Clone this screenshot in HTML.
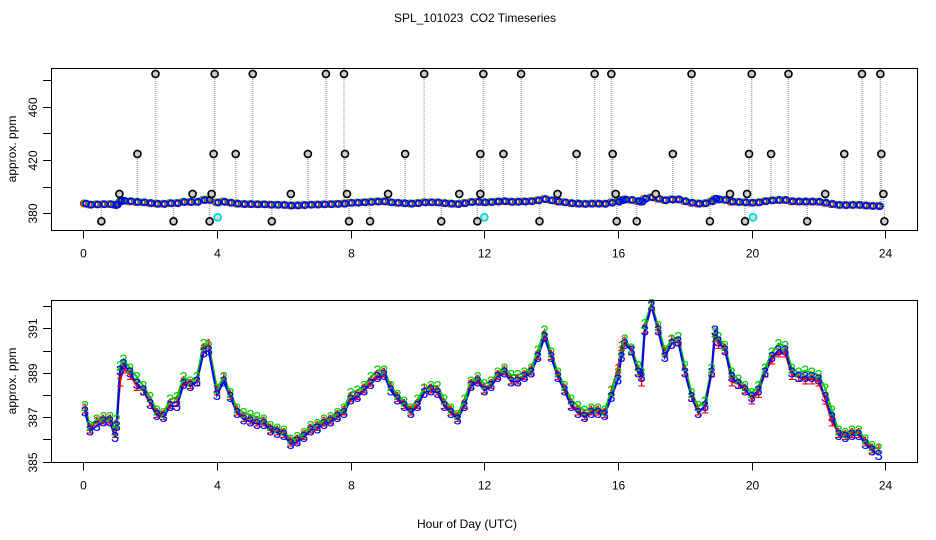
<!DOCTYPE html>
<html><head><meta charset="utf-8"><style>
html,body{margin:0;padding:0;background:#fff}
svg{display:block;font-family:"Liberation Sans",sans-serif}
</style></head><body>
<svg id="chart" width="936" height="540" viewBox="0 0 936 540" xmlns="http://www.w3.org/2000/svg">
<text x="475" y="22" font-size="12" text-anchor="middle">SPL_101023&#160; CO2 Timeseries</text>
<text x="467" y="528" font-size="12" text-anchor="middle">Hour of Day (UTC)</text>
<text transform="translate(16,149) rotate(-90)" font-size="12" text-anchor="middle">approx. ppm</text>
<text transform="translate(16,381) rotate(-90)" font-size="12" text-anchor="middle">approx. ppm</text>
<g id="topPanel"></g>
<g id="botPanel"></g>
<rect x="51.5" y="68.5" width="866" height="162" fill="none" stroke="#000"/>
<rect x="51.5" y="300.5" width="866" height="162" fill="none" stroke="#000"/>
</svg>
<script>
const hours=[0.05,0.2,0.4,0.6,0.8,0.95,1.0,1.1,1.2,1.4,1.6,1.8,2.0,2.2,2.4,2.6,2.8,3.0,3.2,3.4,3.6,3.75,4.0,4.2,4.4,4.6,4.8,5.0,5.2,5.4,5.6,5.8,6.0,6.2,6.4,6.6,6.8,7.0,7.2,7.4,7.6,7.8,8.0,8.2,8.4,8.6,8.8,9.0,9.2,9.4,9.6,9.8,10.0,10.2,10.4,10.6,10.8,11.0,11.2,11.4,11.6,11.8,12.0,12.2,12.4,12.6,12.8,13.0,13.2,13.4,13.6,13.8,14.0,14.2,14.4,14.6,14.8,15.0,15.2,15.4,15.6,15.8,16.0,16.1,16.2,16.4,16.6,16.7,16.8,17.0,17.2,17.4,17.6,17.8,18.0,18.2,18.4,18.6,18.8,18.9,19.0,19.2,19.4,19.6,19.8,20.0,20.2,20.4,20.6,20.8,21.0,21.2,21.4,21.6,21.8,22.0,22.2,22.4,22.6,22.8,23.0,23.2,23.4,23.6,23.8];
const series3=[387.25,386.4,386.6,386.8,386.8,386.1,386.6,389.1,389.4,389.0,388.5,388.2,387.6,387.1,387.0,387.5,387.5,388.5,388.4,388.6,389.9,390.0,388.0,388.6,387.9,387.2,386.9,386.8,386.7,386.7,386.4,386.3,386.2,385.8,385.9,386.1,386.4,386.5,386.7,386.8,387.0,387.2,387.8,387.9,388.2,388.5,388.8,388.9,388.2,387.8,387.5,387.2,387.5,388.1,388.2,388.1,387.5,387.2,386.9,387.5,388.4,388.6,388.2,388.4,388.8,389.0,388.6,388.6,388.8,389.0,389.7,390.6,389.7,388.8,388.2,387.5,387.2,387.0,387.2,387.2,387.1,387.9,388.7,389.7,390.3,390.0,389.0,388.8,390.9,392.0,390.9,389.7,390.3,390.4,389.0,387.9,387.2,387.5,389.0,390.9,390.4,390.0,388.8,388.5,388.2,387.9,388.2,389.0,389.7,390.0,390.0,389.0,388.8,388.8,388.8,388.7,387.9,387.0,386.2,386.1,386.2,386.2,385.8,385.5,385.3];
const series2=[387.5,386.6,386.9,387.0,387.0,386.4,386.9,389.3,389.6,389.2,388.8,388.4,387.9,387.3,387.2,387.8,387.9,388.8,388.6,388.8,390.3,390.2,388.3,388.8,388.1,387.4,387.2,387.1,387.0,386.9,386.6,386.5,386.4,386.0,386.1,386.3,386.6,386.7,386.9,387.0,387.2,387.4,388.1,388.2,388.4,388.8,389.1,389.1,388.4,388.0,387.7,387.4,387.8,388.3,388.4,388.4,387.8,387.4,387.1,387.8,388.6,388.8,388.5,388.6,389.0,389.2,388.9,388.9,389.0,389.2,390.0,390.9,389.9,389.0,388.4,387.8,387.5,387.3,387.4,387.4,387.3,388.2,389.0,390.0,390.5,390.1,389.3,389.0,391.2,392.1,391.1,390.0,390.5,390.6,389.3,388.1,387.5,387.7,389.2,390.8,390.6,390.2,389.0,388.7,388.4,388.1,388.4,389.2,389.9,390.3,390.2,389.2,389.0,389.1,389.0,388.9,388.3,387.3,386.4,386.3,386.4,386.4,386.0,385.7,385.6];
const series1=[387.4,386.5,386.8,386.9,386.9,386.3,386.7,388.6,389.2,388.9,388.4,388.2,387.7,387.2,387.1,387.6,387.7,388.6,388.5,388.6,390.1,390.3,388.2,388.8,388.0,387.3,387.0,386.9,386.8,386.8,386.5,386.4,386.3,385.9,386.0,386.2,386.5,386.6,386.8,386.9,387.1,387.3,387.9,388.0,388.3,388.6,388.9,389.0,388.4,387.9,387.6,387.3,387.6,388.3,388.3,388.2,387.6,387.3,387.0,387.6,388.5,388.7,388.3,388.5,388.9,389.1,388.7,388.7,388.9,389.1,389.8,390.7,389.8,388.9,388.3,387.6,387.3,387.1,387.3,387.3,387.2,388.2,389.2,390.2,390.4,390.0,389.1,388.6,391.0,392.0,391.0,389.9,390.5,390.4,389.1,387.9,387.3,387.4,389.0,390.6,390.3,390.1,388.6,388.5,388.3,387.8,388.1,389.0,389.6,389.9,389.9,388.9,388.8,388.7,388.7,388.6,387.8,386.8,386.3,386.2,386.3,386.3,385.9,385.6,385.6];
const outlierHours=[2.16,3.93,5.07,7.26,7.8,10.2,11.97,13.1,15.3,15.8,18.2,20.0,21.1,23.3,23.85,1.62,3.9,4.56,6.72,7.83,9.63,11.88,12.57,14.76,15.84,17.64,19.92,20.58,22.77,23.88,1.08,3.27,3.84,6.21,7.89,9.12,11.25,11.88,14.19,15.93,17.13,19.35,19.86,22.2,23.94,0.54,2.7,3.78,5.64,7.95,8.58,10.71,11.79,13.65,15.96,16.56,18.75,19.8,21.66,23.97];
const outlierValues=[484.5,484.5,484.5,484.5,484.5,484.5,484.5,484.5,484.5,484.5,484.5,484.5,484.5,484.5,484.5,424.5,424.5,424.5,424.5,424.5,424.5,424.5,424.5,424.5,424.5,424.5,424.5,424.5,424.5,424.5,394.5,394.5,394.5,394.5,394.5,394.5,394.5,394.5,394.5,394.5,394.5,394.5,394.5,394.5,394.5,374,374,374,374,374,374,374,374,374,374,374,374,374,374,374];
const flagHours=[4.02,12.0,20.04];
const flagValues=[377,377,377];
const xTicks=[0,4,8,12,16,20,24];
const topYTicks=[380,400,420,440,460,480];
const topYLabels=["380","","420","","460",""];
const botYTicks=[385,386,387,388,389,390,391,392];
const botYLabels=["385","","387","","389","","391",""];

const NS="http://www.w3.org/2000/svg";
const xs=h=>83.3+h*33.42;
const yT=v=>213.3-(v-380)*1.3333;
const yB=v=>461.7-(v-385)*22.24;
function mk(tag,attrs,parent){const e=document.createElementNS(NS,tag);for(const k in attrs)e.setAttribute(k,attrs[k]);parent.appendChild(e);return e;}
const gTop=document.getElementById('topPanel'), gBot=document.getElementById('botPanel');
const svgEl=document.getElementById('chart');

[[230.5,'top'],[462.5,'bottom']].forEach(([y0,nm])=>{
  const ax=mk('g',{},svgEl);
  
  
  xTicks.forEach(t=>{
    const x=Math.round(xs(t))+0.5;
    const l=mk('line',{x1:x,x2:x,y1:y0,y2:y0+8,stroke:'#000'},ax);
    
    
    const tx=mk('text',{x:x,y:y0+27,'font-size':12,'text-anchor':'middle'},ax);
    tx.textContent=t;
    
    
  });
});
function yAxis(ticks,labels,sc,nm){
  const ax=mk('g',{},svgEl);
  
  
  ticks.forEach((t,i)=>{
    const y=Math.round(sc(t))+0.5;
    const l=mk('line',{x1:43,x2:51.5,y1:y,y2:y,stroke:'#000'},ax);
    
    
    if(labels[i]){
      const tx=mk('text',{transform:`translate(37,${y}) rotate(-90)`,'font-size':12,'text-anchor':'middle'},ax);
      tx.textContent=labels[i];
      
      
    }
  });
}
yAxis(topYTicks,topYLabels,yT,'top-y-axis');
yAxis(botYTicks,botYLabels,yB,'bottom-y-axis');

outlierHours.forEach((h,i)=>{
  const v=outlierValues[i];
  const l=mk('line',{x1:xs(h),x2:xs(h),y1:yT(387),y2:yT(v),stroke:'#aaa','stroke-width':1.5,'stroke-dasharray':'1,1'},gTop);
  
  
});
const sets=[[series1,'#f00'],[series2,'#0c0'],[series3,'#00f']];
const n=Math.min(hours.length,series1.length,series2.length,series3.length);
sets.forEach(([s,c],k)=>{
  for(let i=0;i<n;i++){
    const p=mk('circle',{cx:xs(hours[i])+(k-1)*1.2,cy:yT(s[i]),r:3,fill:'none',stroke:c,'stroke-width':1.8},gTop);
    
    
  }
});
outlierHours.forEach((h,i)=>{
  const p=mk('circle',{cx:xs(h),cy:yT(outlierValues[i]),r:3.5,fill:'#ccc',stroke:'#000','stroke-width':1.6},gTop);
  
  
});
flagHours.forEach((h,i)=>{
  const p=mk('circle',{cx:xs(h),cy:yT(flagValues[i]),r:3.5,fill:'#ddd',stroke:'#0dd','stroke-width':1.8},gTop);
  
  
});

sets.forEach(([s,c],k)=>{
  let d='';
  for(let i=0;i<n;i++)d+=(i?'L':'M')+xs(hours[i]).toFixed(1)+','+yB(s[i]).toFixed(1);
  const pl=mk('path',{d:d,fill:'none',stroke:c,'stroke-width':2},gBot);
  
  
});
sets.forEach(([s,c],k)=>{
  for(let i=0;i<n;i++){
    const t=mk('text',{x:xs(hours[i]),y:yB(s[i])+5,'font-size':15,fill:c,'text-anchor':'middle'},gBot);
    t.textContent=String(k+1);
    
    
  }
});
</script>
</body></html>
